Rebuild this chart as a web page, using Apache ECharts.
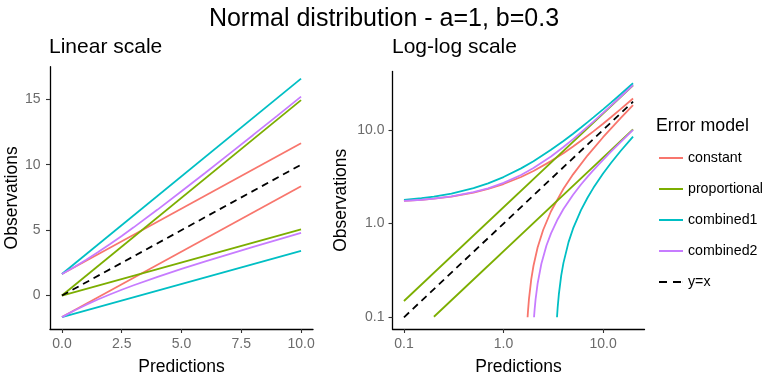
<!DOCTYPE html>
<html>
<head>
<meta charset="utf-8">
<script src="https://cdn.jsdelivr.net/npm/echarts@6/dist/echarts.min.js"></script>
<style>html,body{margin:0;padding:0;background:#fff}#c{width:768px;height:381px}</style>
</head>
<body>
<div id="c"></div>
<script>
// ---------- data ----------
const models = ['constant', 'proportional', 'combined1', 'combined2', 'y=x'];
const colors = ['#F8766D', '#7CAE00', '#00BFC4', '#C77CFF', '#000000'];

// Linear scale panel
const linX = [0, 10];
const linConstantUpper = [1.645, 11.645];
const linConstantLower = [-1.645, 8.355];
const linPropUpper = [0, 14.935];
const linPropLower = [0, 5.065];
const linComb1Upper = [1.645, 16.58];
const linComb1Lower = [-1.645, 3.42];
const linComb2X = [0, 0.5, 1, 1.5, 2, 2.5, 3, 4, 5, 6, 7, 8, 9, 10];
const linComb2Upper = [1.645, 2.163, 2.717, 3.304, 3.918, 4.556, 5.213, 6.570, 7.966, 9.387, 10.826, 12.277, 13.736, 15.202];
const linComb2Lower = [-1.645, -1.163, -0.717, -0.304, 0.082, 0.444, 0.787, 1.430, 2.034, 2.613, 3.174, 3.723, 4.264, 4.798];
const linIdentity = [0, 10];

// Log-log panel
const logX = [0.1, 0.15, 0.2, 0.3, 0.5, 0.7, 1, 1.5, 2, 3, 4, 5, 6, 7, 8, 10, 12, 15, 20];
const logConstantUpper = [1.745, 1.795, 1.845, 1.945, 2.145, 2.345, 2.645, 3.145, 3.645, 4.645, 5.645, 6.645, 7.645, 8.645, 9.645, 11.645, 13.645, 16.645, 21.645];
const logComb1Upper = [1.794, 1.869, 1.944, 2.093, 2.392, 2.690, 3.139, 3.885, 4.632, 6.126, 7.619, 9.113, 10.606, 12.100, 13.593, 16.580, 19.567, 24.048, 31.515];
const logComb2Upper = [1.746, 1.797, 1.848, 1.952, 2.163, 2.381, 2.717, 3.304, 3.918, 5.213, 6.570, 7.966, 9.387, 10.826, 12.277, 15.202, 18.146, 22.583, 30.006];
const logPropX = [0.1, 20];
const logPropUpper = [0.14935, 29.87];
const logPropLowerX = [0.2, 20];
const logPropLower = [0.1013, 10.13];
const logIdentityX = [0.1, 20];
const logIdentity = [0.1, 20];
const logConstantLowerX = [1.745, 1.76, 1.8, 1.9, 2, 2.2, 2.5, 3, 4, 5, 7, 10, 15, 20];
const logConstantLower = [0.1, 0.115, 0.155, 0.255, 0.355, 0.555, 0.855, 1.355, 2.355, 3.355, 5.355, 8.355, 13.355, 18.355];
const logComb1LowerX = [3.445, 3.5, 3.6, 3.8, 4, 4.5, 5, 6, 7, 8, 10, 12, 15, 20];
const logComb1Lower = [0.1, 0.128, 0.178, 0.280, 0.381, 0.634, 0.888, 1.394, 1.901, 2.407, 3.420, 4.433, 5.953, 8.485];
const logComb2LowerX = [2.025, 2.05, 2.1, 2.2, 2.4, 2.7, 3, 3.5, 4, 5, 6, 7, 8, 9, 10, 12, 15, 20];
const logComb2Lower = [0.100, 0.1188, 0.1558, 0.229, 0.373, 0.5831, 0.7869, 1.1148, 1.4304, 2.0344, 2.6127, 3.1738, 3.723, 4.2637, 4.798, 5.8538, 7.4169, 9.9939];

const linXTicks = [0, 2.5, 5, 7.5, 10];
const linYTicks = [0, 5, 10, 15];
const logTicks = [0.1, 1, 10];

// ---------- helpers ----------
const zip = (xs, ys) => xs.map((x, i) => [x, ys[i]]);
function ser(name, idx, xs, ys, g) {
  return {
    name: name, type: 'line', xAxisIndex: g, yAxisIndex: g,
    data: zip(xs, ys), showSymbol: false, symbol: 'none', smooth: false,
    clip: true, animation: false,
    lineStyle: { color: colors[idx], width: 1.8, type: name === 'y=x' ? [7, 5] : 'solid' },
    itemStyle: { color: colors[idx] },
    emphasis: { disabled: true }
  };
}

const series = [
  ser('constant', 0, linX, linConstantUpper, 0),
  ser('constant', 0, linX, linConstantLower, 0),
  ser('proportional', 1, linX, linPropUpper, 0),
  ser('proportional', 1, linX, linPropLower, 0),
  ser('combined1', 2, linX, linComb1Upper, 0),
  ser('combined1', 2, linX, linComb1Lower, 0),
  ser('combined2', 3, linComb2X, linComb2Upper, 0),
  ser('combined2', 3, linComb2X, linComb2Lower, 0),
  ser('y=x', 4, linX, linIdentity, 0),

  ser('constant', 0, logX, logConstantUpper, 1),
  ser('constant', 0, logConstantLowerX, logConstantLower, 1),
  ser('proportional', 1, logPropX, logPropUpper, 1),
  ser('proportional', 1, logPropLowerX, logPropLower, 1),
  ser('combined1', 2, logX, logComb1Upper, 1),
  ser('combined1', 2, logComb1LowerX, logComb1Lower, 1),
  ser('combined2', 3, logX, logComb2Upper, 1),
  ser('combined2', 3, logComb2LowerX, logComb2Lower, 1),
  ser('y=x', 4, logIdentityX, logIdentity, 1)
];

const FONT = 'Liberation Sans';
const axisCommon = {
  axisLine: { show: true, onZero: false, lineStyle: { color: '#000', width: 1.3 } },
  axisTick: { show: true, length: 4, lineStyle: { color: '#333', width: 1.1 } },
  splitLine: { show: false },
  nameLocation: 'middle',
  nameTextStyle: { fontFamily: FONT, fontSize: 17.5, color: '#000' }
};
const labelStyle = { fontFamily: FONT, fontSize: 14, color: '#6b6b6b' };

const solidIcon = 'path://M0,0H24V2H0Z';
const dashIcon = 'path://M0,0H8V2H0Z M14,0H22V2H14Z M23.9,0H24V2H23.9Z';

const option = {
  backgroundColor: '#fff',
  animation: false,
  title: [
    { text: 'Normal distribution - a=1, b=0.3', left: 'center', top: 2,
      textStyle: { fontFamily: FONT, fontSize: 25, fontWeight: 'normal', color: '#000' } },
    { text: 'Linear scale', left: 49, top: 37, padding: 0,
      textStyle: { fontFamily: FONT, fontSize: 21, fontWeight: 'normal', color: '#000' } },
    { text: 'Log-log scale', left: 392, top: 37, padding: 0,
      textStyle: { fontFamily: FONT, fontSize: 21, fontWeight: 'normal', color: '#000' } },
    { text: 'Error model', left: 656, top: 117, padding: 0,
      textStyle: { fontFamily: FONT, fontSize: 17.8, fontWeight: 'normal', color: '#000' } }
  ],
  legend: {
    orient: 'vertical', left: 654, top: 146,
    itemWidth: 24, itemHeight: 14, itemGap: 17,
    data: models.map((m, i) => ({ name: m, icon: m === 'y=x' ? dashIcon : solidIcon,
      itemStyle: { color: colors[i], borderWidth: 0 } })),
    textStyle: { fontFamily: FONT, fontSize: 14.2, color: '#000', overflow: 'none' },
    itemStyle: { borderWidth: 0 },
    lineStyle: { width: 0 },
    selectedMode: false
  },
  grid: [
    { left: 50, top: 66.7, width: 263, height: 266.6 },
    { left: 392.5, top: 71.5, width: 252, height: 261.6 }
  ],
  xAxis: [
    Object.assign({}, axisCommon, {
      type: 'value', gridIndex: 0, min: -0.5, max: 10.5,
      name: 'Predictions', nameGap: 29,
      axisTick: Object.assign({}, axisCommon.axisTick, { customValues: linXTicks }),
      axisLabel: Object.assign({}, labelStyle, { customValues: linXTicks, margin: 8,
        formatter: v => Number(v).toFixed(1) })
    }),
    Object.assign({}, axisCommon, {
      type: 'log', logBase: 10, gridIndex: 1, min: 0.07672, max: 26.07,
      name: 'Predictions', nameGap: 29,
      axisTick: Object.assign({}, axisCommon.axisTick, { customValues: logTicks }),
      axisLabel: Object.assign({}, labelStyle, { customValues: logTicks, margin: 8,
        formatter: v => Number(v).toFixed(1) })
    })
  ],
  yAxis: [
    Object.assign({}, axisCommon, {
      type: 'value', gridIndex: 0, min: -2.556, max: 17.491,
      name: 'Observations', nameGap: 27,
      axisTick: Object.assign({}, axisCommon.axisTick, { customValues: linYTicks }),
      axisLabel: Object.assign({}, labelStyle, { customValues: linYTicks, margin: 9.5,
        formatter: v => String(v) })
    }),
    Object.assign({}, axisCommon, {
      type: 'log', logBase: 10, gridIndex: 1, min: 0.0750, max: 42.02,
      name: 'Observations', nameGap: 42,
      axisTick: Object.assign({}, axisCommon.axisTick, { customValues: logTicks }),
      axisLabel: Object.assign({}, labelStyle, { customValues: logTicks, margin: 8,
        formatter: v => Number(v).toFixed(1) })
    })
  ],
  series: series
};

const chart = echarts.init(document.getElementById('c'), null, { renderer: 'canvas' });
chart.setOption(option);
</script>
</body>
</html>
